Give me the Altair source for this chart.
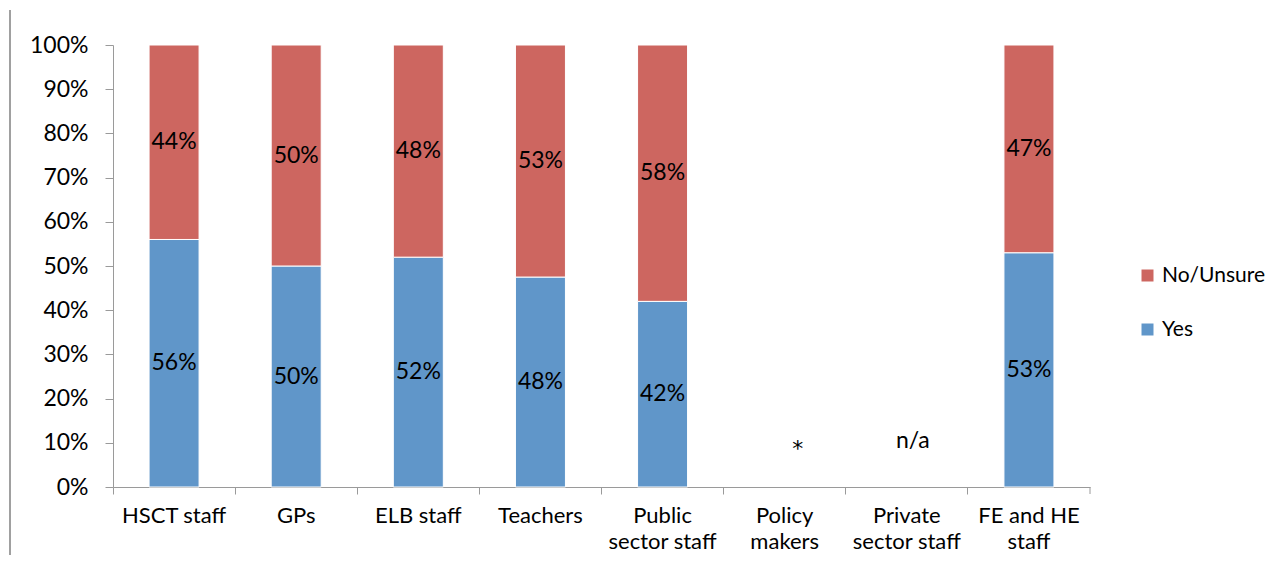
import altair as alt
import pandas as pd

categories = ["HSCT staff", "GPs", "ELB staff", "Teachers", "Public sector staff",
              "Policy makers", "Private sector staff", "FE and HE staff"]
label_lines = [["HSCT staff"], ["GPs"], ["ELB staff"], ["Teachers"], ["Public", "sector staff"],
               ["Policy", "makers"], ["Private", "sector staff"], ["FE and HE", "staff"]]
yes_values = [56, 50, 52, 47.5, 42, None, None, 53]
yes_labels = ["56%", "50%", "52%", "48%", "42%", None, None, "53%"]
no_labels = ["44%", "50%", "48%", "53%", "58%", None, None, "47%"]
series = ["No/Unsure", "Yes"]
colors = ["#CD6660", "#6096C9"]
note_cats = ["Policy makers", "Private sector staff"]
note_texts = ["*", "n/a"]
note_y = [8.5, 10.3]

rows = []
for c, yv, yl, nl in zip(categories, yes_values, yes_labels, no_labels):
    if yv is None:
        continue
    rows.append(dict(cat=c, series="Yes", y0=0, y1=yv, mid=yv / 2, label=yl))
    rows.append(dict(cat=c, series="No/Unsure", y0=yv, y1=100, mid=(yv + 100) / 2, label=nl))
df = pd.DataFrame(rows)
notes = pd.DataFrame(dict(cat=note_cats, txt=note_texts, y=note_y))

FONT = "Lato"
FS = 23
label_map = "{" + ",".join(f"'{c}': {l}" for c, l in zip(categories, label_lines)) + "}"

x_enc = alt.X("cat:N", sort=categories, scale=alt.Scale(domain=categories, paddingInner=0, paddingOuter=0),
              axis=alt.Axis(title=None, labelAngle=0, bandPosition=0, tickSize=7, labelPadding=11,
                            labelFontSize=22, labelFont=FONT, labelColor="#000000", labelLineHeight=26,
                            domainColor="#9A9A9A", tickColor="#9A9A9A", grid=False,
                            labelExpr=f"{label_map}[datum.label]"))
y_scale = alt.Scale(domain=[0, 100], nice=False)

bars = alt.Chart(df).mark_bar(size=50, stroke="white", strokeWidth=1).encode(
    x=x_enc,
    y=alt.Y("y0:Q", scale=y_scale,
            axis=alt.Axis(title=None, values=list(range(0, 101, 10)), labelExpr="datum.value + '%'",
                          tickSize=8, labelPadding=17, labelFontSize=FS, labelFont=FONT,
                          labelColor="#000000", domainColor="#9A9A9A", tickColor="#9A9A9A", grid=False)),
    y2="y1:Q",
    color=alt.Color("series:N", scale=alt.Scale(domain=series, range=colors),
                    legend=alt.Legend(title=None, orient="none", legendX=1024, legendY=220,
                                      symbolType="square", symbolSize=144, symbolStrokeWidth=0,
                                      labelFontSize=21, labelFont=FONT, labelColor="#000000",
                                      rowPadding=32, labelOffset=4)),
)

texts = alt.Chart(df).mark_text(fontSize=FS, font=FONT, color="#000000", baseline="middle").encode(
    x=alt.X("cat:N", sort=categories), y=alt.Y("mid:Q", scale=y_scale), text="label:N")

star = alt.Chart(notes.iloc[[0]]).mark_text(fontSize=22, font="DejaVu Sans", color="#000000",
                                            baseline="middle", dx=13).encode(
    x=alt.X("cat:N", sort=categories), y=alt.Y("y:Q", scale=y_scale), text="txt:N")
na = alt.Chart(notes.iloc[[1]]).mark_text(fontSize=FS, font=FONT, color="#000000",
                                          baseline="middle", dx=6).encode(
    x=alt.X("cat:N", sort=categories), y=alt.Y("y:Q", scale=y_scale), text="txt:N")

border = alt.Chart(pd.DataFrame({"a": [0]})).mark_rule(color="#A0A0A0", strokeWidth=2).encode(
    x=alt.value(-103), y=alt.value(-35), y2=alt.value(520))
end_tick = alt.Chart(pd.DataFrame({"a": [0]})).mark_rule(color="#9A9A9A", strokeWidth=1).encode(
    x=alt.value(977), y=alt.value(442), y2=alt.value(449))

chart = alt.layer(bars, texts, star, na, border, end_tick).properties(
    width=977, height=442,
    autosize=alt.AutoSizeParams(type="none"),
    padding={"left": 105, "top": 37, "right": 181, "bottom": 68},
).configure_view(stroke=None)

chart.save("out.html", embed_options={"renderer": "svg", "actions": False})
